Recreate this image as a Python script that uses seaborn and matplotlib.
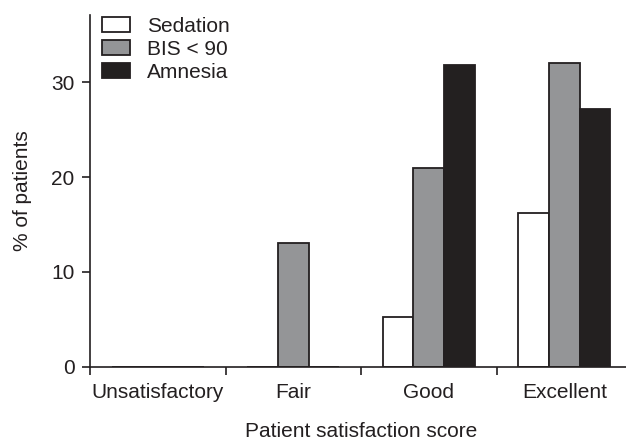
import numpy as np
import pandas as pd
import seaborn as sns
import matplotlib.pyplot as plt

# -------------------------
# Data
# -------------------------
scores = ["Unsatisfactory", "Fair", "Good", "Excellent"]
groups = ["Sedation", "BIS < 90", "Amnesia"]
sedation = [0.0, 0.0, 5.2, 16.2]
bis_lt_90 = [0.0, 13.0, 21.0, 32.0]
amnesia = [0.0, 0.0, 31.8, 27.2]

df = pd.DataFrame({
    "score": scores * 3,
    "group": [g for g in groups for _ in scores],
    "pct": sedation + bis_lt_90 + amnesia,
})

INK = "#231f20"
palette = {"Sedation": "#ffffff", "BIS < 90": "#939598", "Amnesia": INK}
FS = 15

# -------------------------
# Figure
# -------------------------
sns.set_style("ticks")
plt.rcParams["font.family"] = ["Liberation Sans", "DejaVu Sans"]

W, H = 626, 441
fig = plt.figure(figsize=(W / 100, H / 100), dpi=100)
ax = fig.add_axes([90 / W, 74.3 / H, 542 / W, 351.7 / H])

sns.barplot(
    data=df, x="score", y="pct", hue="group",
    order=scores, hue_order=groups, palette=palette,
    width=0.68, edgecolor=INK, linewidth=1.3,
    errorbar=None, ax=ax,
)

ax.set_xlim(-0.5, 3.5)
ax.set_ylim(0, 37.1)
ax.set_yticks([0, 10, 20, 30])

# category boundaries get the tick marks, labels sit in between
ax.set_xticks(np.arange(-0.5, 4, 1), minor=True)
ax.tick_params(axis="x", which="major", length=0, pad=12, labelsize=FS, labelcolor=INK)
ax.tick_params(axis="x", which="minor", length=6, width=1.2, color=INK)
ax.tick_params(axis="y", length=6, width=1.2, color=INK, pad=5, labelsize=FS, labelcolor=INK)

for side in ["top", "right"]:
    ax.spines[side].set_visible(False)
for side in ["left", "bottom"]:
    ax.spines[side].set_linewidth(1.2)
    ax.spines[side].set_color(INK)

ax.set_xlabel("Patient satisfaction score", fontsize=FS, color=INK, labelpad=14)
ax.set_ylabel("% of patients", fontsize=FS, color=INK, labelpad=14)

sns.move_legend(
    ax, "upper left", bbox_to_anchor=(12 / 542, 0.995),
    frameon=False, title=None, fontsize=FS,
    handlelength=1.35, handleheight=0.72, handletextpad=0.8,
    labelspacing=0.19, borderpad=0, borderaxespad=0,
)
for t in ax.get_legend().get_texts():
    t.set_color(INK)

plt.savefig("out.png", dpi=100)
plt.close()
